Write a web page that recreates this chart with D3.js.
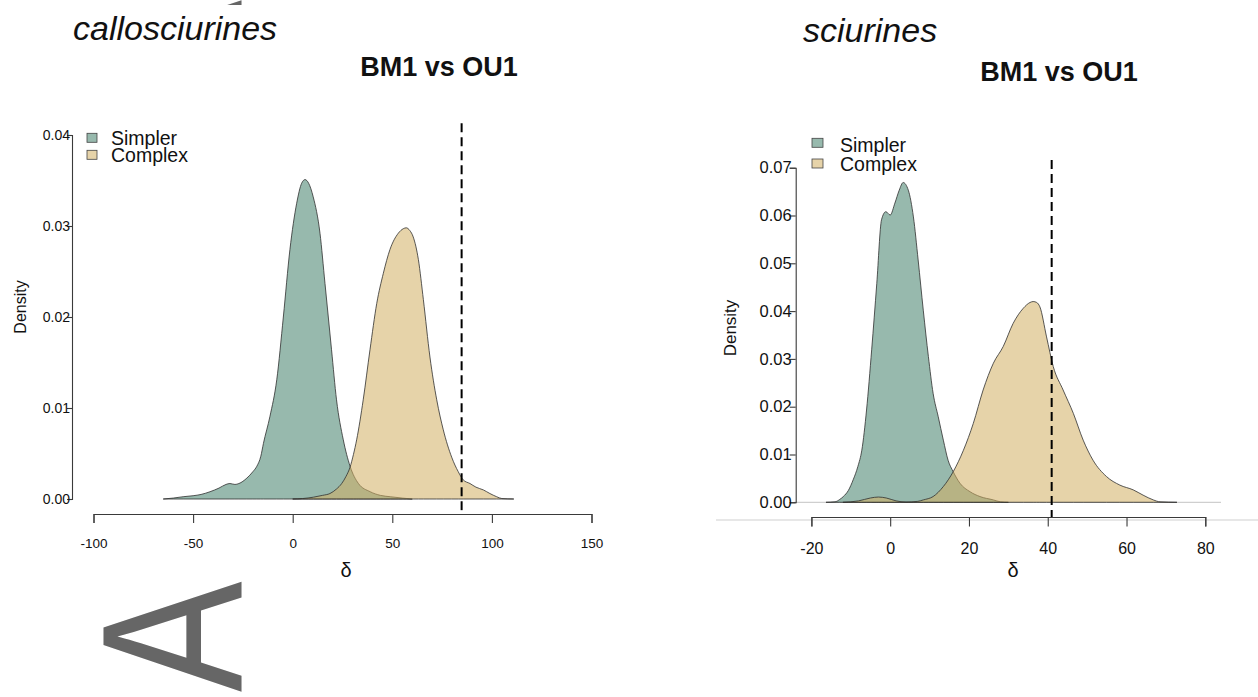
<!DOCTYPE html>
<html>
<head>
<meta charset="utf-8">
<script src="https://cdn.jsdelivr.net/npm/d3@7"></script>
<style>
  html, body { margin: 0; padding: 0; background: #fff; }
  svg { display: block; }
  text { font-family: "Liberation Sans", Arial, Helvetica, sans-serif; }
</style>
</head>
<body>
<svg id="fig" width="1258" height="697"></svg>
<script>
// ---- data -------------------------------------------------------------
const seriesNames = ["Simpler", "Complex"];

// callosciurines: posterior densities of delta, [delta, density]
const calloSimpler = [
  [-65, 0], [-60, 0.0001], [-55, 0.00025], [-50, 0.00036], [-46, 0.0005],
  [-41.5, 0.0008], [-37, 0.0012], [-33.5, 0.0016], [-31.5, 0.0017], [-29, 0.0016],
  [-27, 0.0017], [-23, 0.0023], [-20, 0.003], [-18, 0.0036], [-16, 0.0047],
  [-14.7, 0.0061], [-11.4, 0.0091], [-8, 0.0131], [-4.7, 0.02], [-1.4, 0.0274],
  [2, 0.0325], [4.5, 0.0347], [6.2, 0.0351], [8, 0.0347], [10.3, 0.0332],
  [13.7, 0.0292], [16.2, 0.0237], [19.5, 0.0164], [22, 0.0109], [25.4, 0.0065],
  [28.8, 0.0036], [33, 0.0017], [38.9, 0.0008], [44, 0.0004], [49, 0.00025],
  [55, 0.0001], [60, 0]
];
const calloComplex = [
  [0, 0], [5, 0.00005], [10.4, 0.0002], [15, 0.0004], [18.7, 0.0006],
  [22, 0.0011], [24.6, 0.0017], [26.8, 0.0025], [28.8, 0.0035], [30.5, 0.0049],
  [32.1, 0.0065], [35.4, 0.0109], [38.8, 0.0164], [42.2, 0.0215], [45.5, 0.0248],
  [48.8, 0.0274], [53, 0.0292], [55.5, 0.0297], [57, 0.0298], [58.8, 0.0295],
  [60.5, 0.0288], [63.1, 0.0263], [65.6, 0.0219], [68.9, 0.0156], [72.3, 0.0109],
  [75.6, 0.0076], [79.8, 0.0046], [83.1, 0.003], [85.6, 0.0021], [89, 0.0017],
  [92, 0.0013], [95.7, 0.001], [99, 0.0006], [102.4, 0.00025], [105, 0.00005],
  [111, 0]
];
const calloObserved = 84.8;

// sciurines: posterior densities of delta, [delta, density]
const sciurSimpler = [
  [-16.3, 0], [-14, 0.0001], [-12.8, 0.0006], [-11.9, 0.0012], [-10.6, 0.0025],
  [-9.4, 0.0047], [-8.2, 0.0075], [-7.2, 0.0109], [-6, 0.0193], [-4.7, 0.0319],
  [-3.4, 0.0458], [-2.2, 0.0591], [-1.1, 0.0608], [0, 0.0601], [1.2, 0.0626],
  [2.3, 0.0653], [3.3, 0.0669], [4.6, 0.0653], [5.9, 0.0597], [7.1, 0.0507],
  [8.4, 0.0402], [9.7, 0.0305], [10.9, 0.0228], [12.2, 0.0179], [13.5, 0.013],
  [14.7, 0.0088], [16, 0.0064], [17.7, 0.004], [20.3, 0.0022], [22.8, 0.0012],
  [26.2, 0.0005], [28, 0.0001], [30, 0]
];
const sciurComplex = [
  [-12, 0], [-8, 0.0003], [-5, 0.0009], [-3, 0.0011], [-1, 0.0009],
  [1.5, 0.0003], [4, 0.00005], [7, 0.0002], [8.4, 0.0005], [10.9, 0.0012],
  [13.5, 0.0033], [16, 0.0064], [18.6, 0.0109], [21.1, 0.0165], [23.6, 0.0235],
  [26.2, 0.0291], [28.7, 0.0326], [31.2, 0.0374], [33.8, 0.0406], [35.5, 0.0418],
  [36.3, 0.042], [37.2, 0.0418], [38, 0.0409], [39.7, 0.0346], [41.4, 0.0284],
  [43.9, 0.0235], [46.5, 0.0186], [49, 0.013], [51.5, 0.0088], [54.9, 0.0054],
  [58.3, 0.0036], [61.7, 0.0026], [64.2, 0.0015], [66.8, 0.0005], [68.5, 0.0001],
  [72.8, 0]
];
const sciurObserved = 41.0;

// axis ticks
const calloXTicks = [-100, -50, 0, 50, 100, 150];
const calloYTicks = [0, 0.01, 0.02, 0.03, 0.04];
const sciurXTicks = [-20, 0, 20, 40, 60, 80];
const sciurYTicks = [0, 0.01, 0.02, 0.03, 0.04, 0.05, 0.06, 0.07];

// ---- styling ----------------------------------------------------------
const fills = ["rgba(66,128,106,0.55)", "rgba(210,175,99,0.55)"];
const outline = "#2e2e2e";
const axisColor = "#3a3a3a";
const panelLabelGrey = "#666666";

const svg = d3.select("#fig");

// ---- panel letter (rotated "A") ----------------------------------------
const defs = svg.append("defs");
defs.append("clipPath").attr("id", "topStrip")
  .append("rect").attr("x", 0).attr("y", 0).attr("width", 1258).attr("height", 5);

function panelLetter(g, baseX, bottomY) {
  g.append("text")
    .attr("transform", `translate(${baseX},${bottomY}) rotate(-90) scale(0.825,1)`)
    .attr("font-size", 201)
    .attr("fill", panelLabelGrey)
    .text("A");
}
panelLetter(svg.append("g").attr("clip-path", "url(#topStrip)"), 241, 110.6);
panelLetter(svg.append("g"), 241, 692);

// ---- one density panel -------------------------------------------------
function drawPanel(p) {
  const g = svg.append("g");
  const x = d3.scaleLinear().domain(p.xDomain).range(p.xRange);
  const y = d3.scaleLinear().domain(p.yDomain).range(p.yRange);

  // extra light rules (only on the sciurines panel)
  (p.rules || []).forEach(r => {
    g.append("line")
      .attr("x1", r.x1).attr("x2", r.x2).attr("y1", r.y).attr("y2", r.y)
      .attr("stroke", "#cfcfcf").attr("stroke-width", 1.2);
  });

  const area = d3.area()
    .x(d => x(d[0]))
    .y0(y(0))
    .y1(d => y(d[1]))
    .curve(d3.curveMonotoneX);

  [p.simpler, p.complex].forEach((series, i) => {
    g.append("path")
      .datum(series)
      .attr("d", d => area(d) + "Z")
      .attr("fill", fills[i])
      .attr("stroke", outline)
      .attr("stroke-width", 0.8)
      .attr("stroke-linejoin", "round");
  });

  // observed delta
  g.append("line")
    .attr("x1", x(p.observed)).attr("x2", x(p.observed))
    .attr("y1", y(p.dashTop)).attr("y2", p.xAxisY)
    .attr("stroke", "#000").attr("stroke-width", 2)
    .attr("stroke-dasharray", "9,5");

  // x axis
  const xAxis = d3.axisBottom(x)
    .tickValues(p.xTicks)
    .tickFormat(d => String(d))
    .tickSizeInner(p.xTick).tickSizeOuter(p.xTick)
    .tickPadding(p.xPad);
  const gx = g.append("g")
    .attr("transform", `translate(0,${p.xAxisY})`)
    .call(xAxis);
  gx.select(".domain").attr("stroke", axisColor).attr("stroke-width", 1.1);
  gx.selectAll(".tick line").attr("stroke", axisColor).attr("stroke-width", 1.1);
  gx.selectAll(".tick text")
    .attr("fill", "#111")
    .attr("font-family", '"Liberation Sans", Arial, sans-serif')
    .attr("font-size", p.xFont);

  // y axis
  const yAxis = d3.axisLeft(y)
    .tickValues(p.yTicks)
    .tickFormat(d3.format(".2f"))
    .tickSizeInner(p.yTick).tickSizeOuter(p.yTick)
    .tickPadding(p.yPad);
  const gy = g.append("g")
    .attr("transform", `translate(${p.yAxisX},0)`)
    .call(yAxis);
  gy.select(".domain").attr("stroke", axisColor).attr("stroke-width", 1.1);
  gy.selectAll(".tick line").attr("stroke", axisColor).attr("stroke-width", 1.1);
  gy.selectAll(".tick text")
    .attr("fill", "#111")
    .attr("font-family", '"Liberation Sans", Arial, sans-serif')
    .attr("font-size", p.yFont);

  // axis titles
  g.append("text")
    .attr("transform", `translate(${p.yLabel[0]},${p.yLabel[1]}) rotate(-90)`)
    .attr("text-anchor", "middle")
    .attr("dominant-baseline", "central")
    .attr("font-size", p.yLabelFont)
    .attr("fill", "#111")
    .text("Density");
  g.append("text")
    .attr("x", p.xLabel[0]).attr("y", p.xLabel[1])
    .attr("text-anchor", "middle")
    .attr("font-family", '"Liberation Serif", "DejaVu Serif", serif')
    .attr("font-size", 20)
    .attr("fill", "#111")
    .text("\u03B4");

  // legend
  seriesNames.forEach((name, i) => {
    g.append("rect")
      .attr("x", p.legend.boxX).attr("y", p.legend.rowY[i])
      .attr("width", p.legend.boxW).attr("height", p.legend.boxH)
      .attr("fill", fills[i])
      .attr("stroke", "#444").attr("stroke-width", 0.8);
    g.append("text")
      .attr("x", p.legend.textX).attr("y", p.legend.baseY[i])
      .attr("font-size", p.legend.font)
      .attr("fill", "#111")
      .text(name);
  });

  // titles
  g.append("text")
    .attr("x", p.title[0]).attr("y", p.title[1])
    .attr("text-anchor", "middle")
    .attr("font-weight", "bold")
    .attr("font-size", 27)
    .attr("fill", "#111")
    .text("BM1 vs OU1");
  g.append("text")
    .attr("x", p.group[0]).attr("y", p.group[1])
    .attr("font-style", "italic")
    .attr("font-size", 34)
    .attr("fill", "#111")
    .text(p.groupName);
}

drawPanel({
  groupName: "callosciurines",
  simpler: calloSimpler, complex: calloComplex, observed: calloObserved,
  xDomain: [-100, 150], xRange: [93.5, 591.5],
  yDomain: [0, 0.04], yRange: [499, 135],
  xTicks: calloXTicks, yTicks: calloYTicks,
  xAxisY: 514, xTick: 9, xPad: 15, xFont: 13.5,
  yAxisX: 72, yTick: 5, yPad: -3, yFont: 14,
  dashTop: 0.0413,
  yLabel: [20, 307], yLabelFont: 16,
  xLabel: [346, 577],
  legend: { boxX: 87, boxW: 10, boxH: 9, rowY: [133.3, 150.3], textX: 111,
            baseY: [144.5, 162], font: 19.5 },
  title: [439, 76], group: [73, 40]
});

drawPanel({
  groupName: "sciurines",
  simpler: sciurSimpler, complex: sciurComplex, observed: sciurObserved,
  xDomain: [-20, 80], xRange: [811.4, 1205.3],
  yDomain: [0, 0.07], yRange: [502.3, 167.7],
  xTicks: sciurXTicks, yTicks: sciurYTicks,
  xAxisY: 517, xTick: 9.5, xPad: 16, xFont: 16,
  yAxisX: 795.7, yTick: 6, yPad: -2, yFont: 16.5,
  dashTop: 0.0716,
  yLabel: [730, 328], yLabelFont: 17,
  xLabel: [1013, 577],
  legend: { boxX: 812, boxW: 11, boxH: 9, rowY: [138.3, 159], textX: 840,
            baseY: [151.7, 171], font: 19.5 },
  title: [1059, 81], group: [803, 42],
  rules: [ { y: 502.3, x1: 794, x2: 1221 }, { y: 520, x1: 716, x2: 1258 } ]
});
</script>
</body>
</html>
